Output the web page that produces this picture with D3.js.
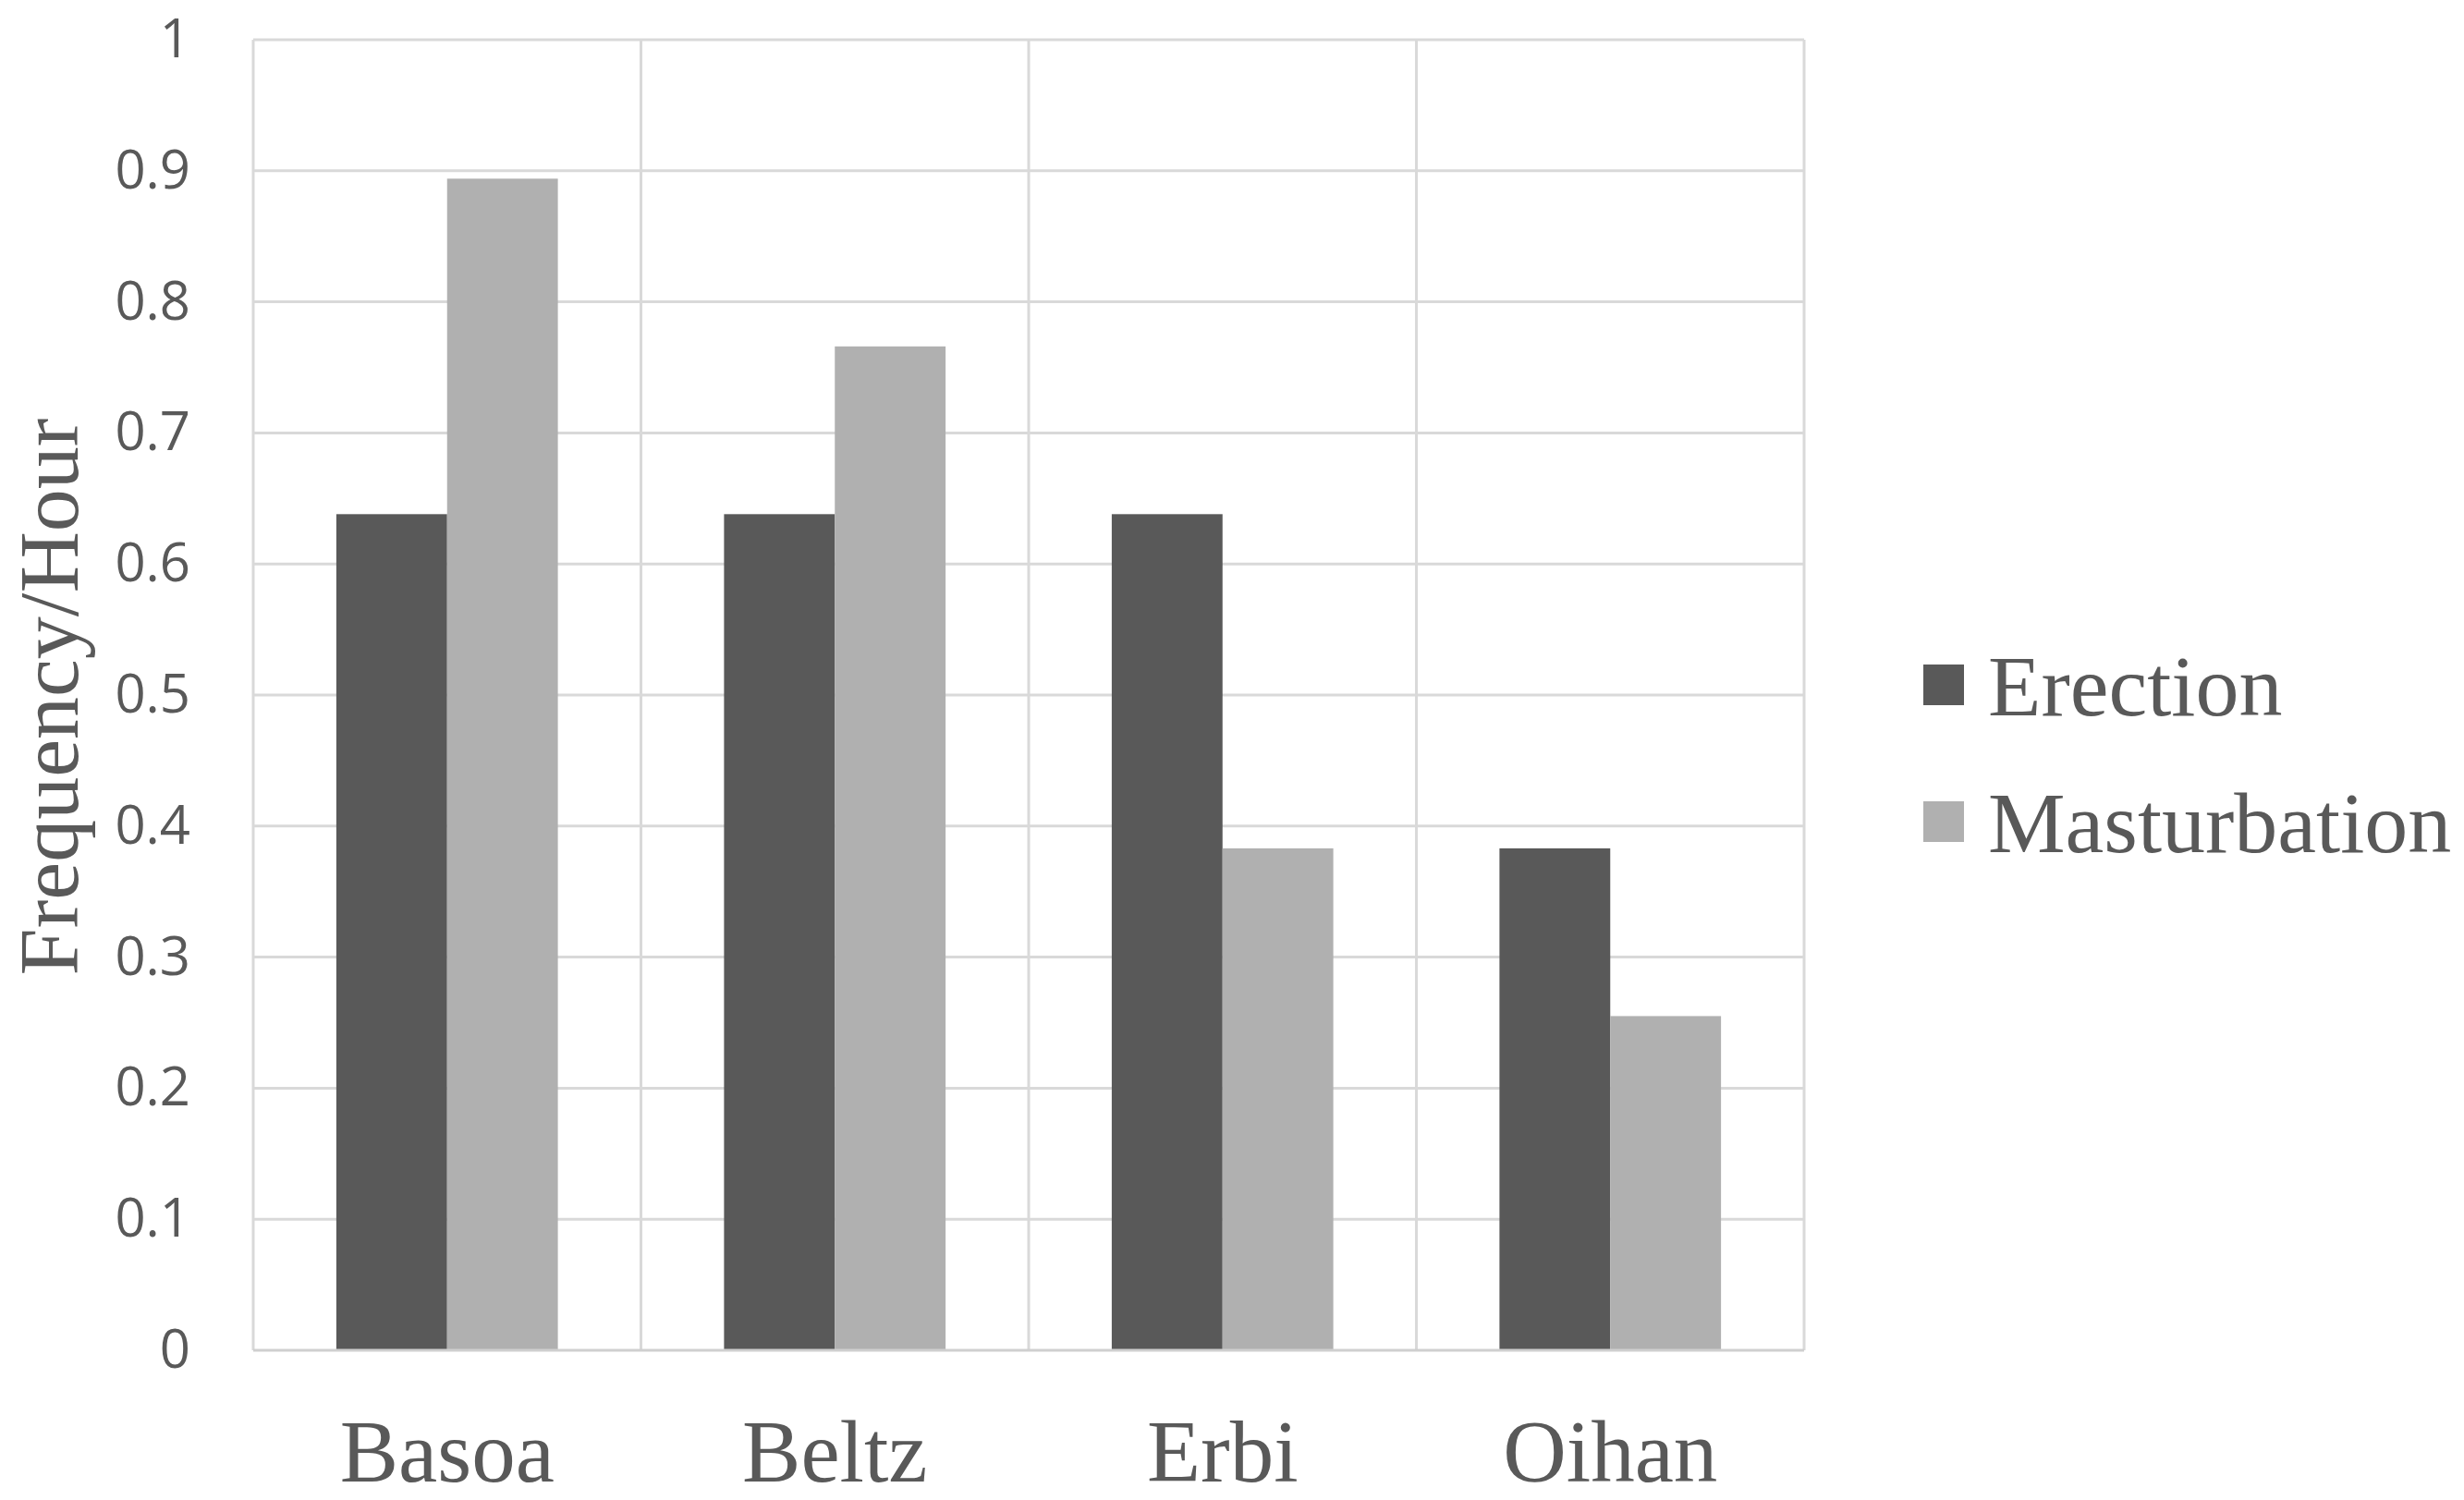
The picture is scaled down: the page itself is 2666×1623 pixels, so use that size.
<!DOCTYPE html>
<html>
<head>
<meta charset="utf-8">
<script src="https://cdn.jsdelivr.net/npm/d3@7"></script>
<style>
  html, body { margin: 0; padding: 0; background: #ffffff; }
  svg { display: block; }
</style>
</head>
<body>
<svg id="chart" width="2666" height="1623"></svg>
<script>
const categories = ["Basoa", "Beltz", "Erbi", "Oihan"];
const seriesNames = ["Erection", "Masturbation"];
const erection = [0.638, 0.638, 0.638, 0.383];
const masturbation = [0.894, 0.766, 0.383, 0.255];
const yTicks = [0, 0.1, 0.2, 0.3, 0.4, 0.5, 0.6, 0.7, 0.8, 0.9, 1];
const yTickLabels = ["0", "0.1", "0.2", "0.3", "0.4", "0.5", "0.6", "0.7", "0.8", "0.9", "1"];
const yTitle = "Frequency/Hour";
const colors = ["#595959", "#b0b0b0"];

const svg = d3.select("#chart");
const margin = { left: 274, right: 2666 - 1952, top: 43, bottom: 1623 - 1461 };
const W = 2666, H = 1623;
const plotW = W - margin.left - margin.right;
const plotH = H - margin.top - margin.bottom;
const gridColor = "#d9d9d9";
const textColor = "#595959";

const x0 = d3.scaleBand().domain(categories).range([0, plotW]).paddingInner(0).paddingOuter(0);
const barW = x0.bandwidth() / 3.5;
const x1 = d3.scaleBand().domain(seriesNames)
  .range([(x0.bandwidth() - 2 * barW) / 2, (x0.bandwidth() + 2 * barW) / 2]).padding(0);
const y = d3.scaleLinear().domain([0, 1]).range([plotH, 0]);

const g = svg.append("g").attr("transform", `translate(${margin.left},${margin.top})`);

// horizontal gridlines
g.append("g").selectAll("line").data(yTicks.filter(d => d > 0)).join("line")
  .attr("x1", 0).attr("x2", plotW)
  .attr("y1", d => y(d)).attr("y2", d => y(d))
  .attr("stroke", gridColor).attr("stroke-width", 3);

// vertical gridlines (category boundaries + borders)
const vlines = categories.map(c => x0(c)).concat([plotW]);
g.append("g").selectAll("line").data(vlines).join("line")
  .attr("x1", d => d).attr("x2", d => d)
  .attr("y1", y(1)).attr("y2", y(0))
  .attr("stroke", gridColor).attr("stroke-width", 3);

// bars
const data = categories.map((c, i) => ({ cat: c, vals: [erection[i], masturbation[i]] }));
const groups = g.append("g").selectAll("g").data(data).join("g")
  .attr("transform", d => `translate(${x0(d.cat)},0)`);
groups.selectAll("rect").data(d => d.vals.map((v, k) => ({ key: seriesNames[k], v, k })))
  .join("rect")
  .attr("x", d => x1(d.key))
  .attr("width", x1.bandwidth())
  .attr("y", d => y(d.v))
  .attr("height", d => y(0) - y(d.v))
  .attr("fill", d => colors[d.k]);

// baseline axis
g.append("line").attr("x1", 0).attr("x2", plotW).attr("y1", y(0)).attr("y2", y(0))
  .attr("stroke", "#cfcfcf").attr("stroke-width", 3);

// y axis labels
const yAxis = d3.axisLeft(y).tickValues(yTicks).tickFormat((d, i) => yTickLabels[i]).tickSize(0).tickPadding(68);
const ya = g.append("g").call(yAxis);
ya.select(".domain").remove();
ya.selectAll("text")
  .attr("font-family", "'Open Sans', sans-serif")
  .attr("font-size", 58)
  .attr("fill", textColor);

// x axis labels
const xAxis = d3.axisBottom(x0).tickSize(0).tickPadding(0);
const xa = g.append("g").attr("transform", `translate(0,${plotH})`).call(xAxis);
xa.select(".domain").remove();
xa.selectAll("text")
  .attr("dy", null)
  .attr("y", 142)
  .attr("font-family", "'Liberation Serif', 'Times New Roman', serif")
  .attr("font-size", 95)
  .attr("fill", textColor);

// y title
svg.append("text")
  .attr("transform", `translate(84,${754}) rotate(-90)`)
  .attr("text-anchor", "middle")
  .attr("font-family", "'Liberation Serif', 'Times New Roman', serif")
  .attr("font-size", 92)
  .attr("fill", textColor)
  .text(yTitle);

// legend
const legend = svg.append("g").attr("transform", "translate(2081,0)");
const legendY = [741, 889];
seriesNames.forEach((name, i) => {
  legend.append("rect").attr("x", 0).attr("y", legendY[i] - 22).attr("width", 44).attr("height", 44)
    .attr("fill", colors[i]);
  legend.append("text").attr("x", 70).attr("y", legendY[i] + 33)
    .attr("font-family", "'Liberation Serif', 'Times New Roman', serif")
    .attr("font-size", 94)
    .attr("fill", textColor)
    .text(name);
});
</script>
</body>
</html>
